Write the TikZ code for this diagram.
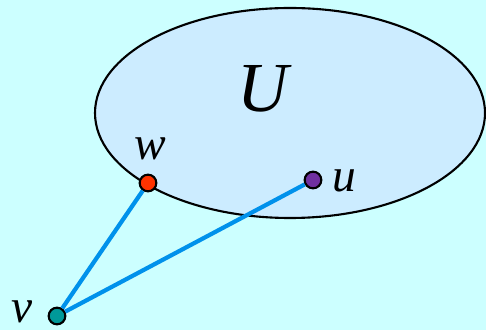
\documentclass[tikz,border=0pt]{standalone}
\usepackage{fontspec}
\setmainfont{Liberation Serif}
\usetikzlibrary{positioning}

\definecolor{bgcyan}{RGB}{204,255,255}
\definecolor{setfill}{RGB}{204,236,255}
\definecolor{edgeblue}{RGB}{0,145,235}
\definecolor{wred}{RGB}{255,51,0}
\definecolor{upurple}{RGB}{112,48,160}
\definecolor{vteal}{RGB}{0,153,153}

\begin{document}
\begin{tikzpicture}[x=0.02cm, y=-0.02cm,
        % vertex dots
        vertex/.style={circle, draw=black, line width=1.2pt, minimum size=9.5pt, inner sep=0pt},
        % vertex names
        vname/.style={font=\fontsize{27}{27}\selectfont\itshape, inner sep=0pt},
        % edges
        edge/.style={draw=edgeblue, line width=2.4pt}
    ]

    % background
    \fill[bgcyan] (0,0) rectangle (486,330);
    \useasboundingbox (0,0) rectangle (486,330);

    % the set U
    \draw[fill=setfill, line width=1.2pt] (290,113) ellipse [x radius=195, y radius=105];
    \node[font=\fontsize{40}{40}\selectfont\itshape, inner sep=0pt] (setU) at (263,89) {U};

    % vertices
    \node[vertex, fill=wred] (w) at (148,183) {};
    \node[vertex, fill=upurple] (u) at (313,180) {};
    \node[vertex, fill=vteal] (v) at (57,316) {};

    \node[vname] (wlabel) at (150,149) {w};
    \node[vname] (ulabel) at (344,181) {u};
    \node[vname] (vlabel) at (22,312) {v};

    % edges
    \draw[edge] (v) -- (w);
    \draw[edge] (v) -- (u);

\end{tikzpicture}
\end{document}
